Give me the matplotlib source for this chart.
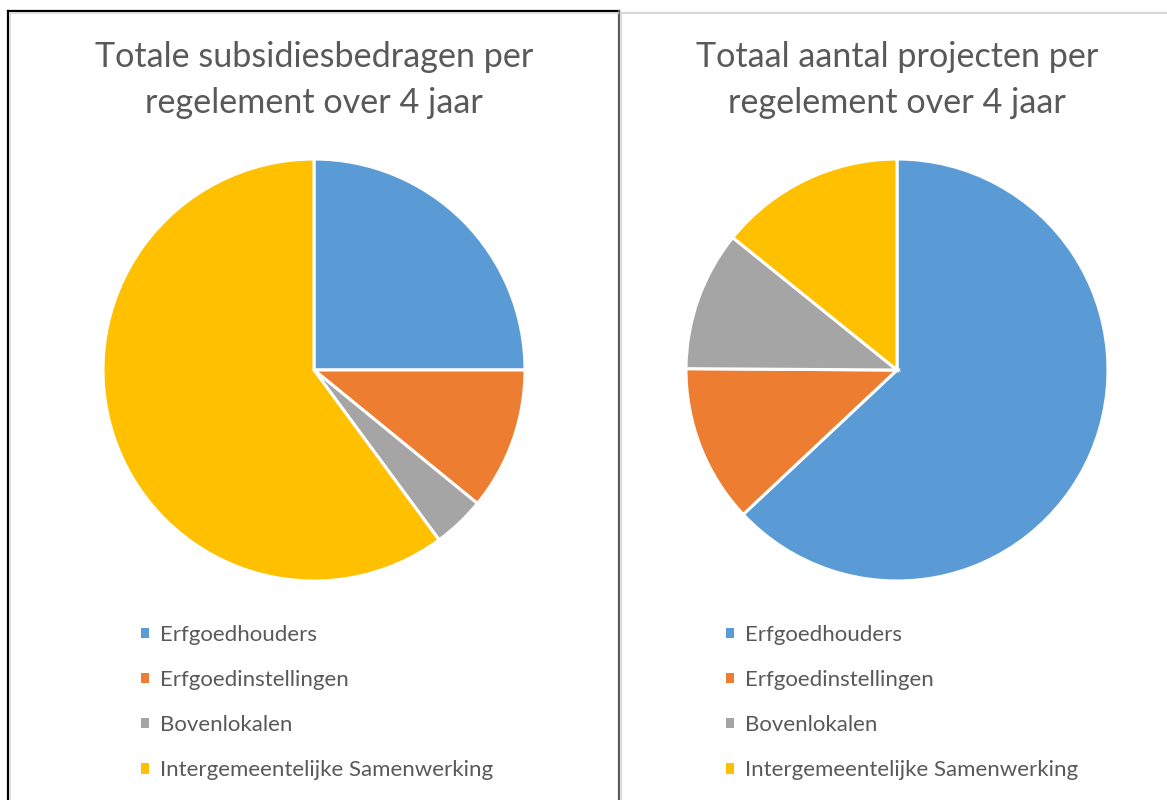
import matplotlib
matplotlib.use("Agg")
import matplotlib.pyplot as plt
from matplotlib.lines import Line2D
from matplotlib.patches import Patch

plt.rcParams["font.family"] = ["Lato", "DejaVu Sans"]

categories = ["Erfgoedhouders", "Erfgoedinstellingen", "Bovenlokalen",
              "Intergemeentelijke Samenwerking"]
bedragen = [25.0, 10.9, 4.0, 60.1]      # share of subsidy amounts (%)
projecten = [63.0, 12.1, 10.7, 14.2]    # share of projects (%)
titles = ["Totale subsidiesbedragen per\nregelement over 4 jaar",
          "Totaal aantal projecten per\nregelement over 4 jaar"]
colors = ["#5B9BD5", "#ED7D31", "#A5A5A5", "#FFC000"]
text_col = "#595959"

W, H = 1167, 800
fig = plt.figure(figsize=(W / 100, H / 100), dpi=100)


def fx(px):
    return px / W


def fy(py):
    return 1 - py / H


# panel frames (screenshot of two chart objects)
fig.add_artist(Line2D([fx(8), fx(8)], [fy(11), fy(800)], color="black", lw=1.6))
fig.add_artist(Line2D([fx(8), fx(619)], [fy(11), fy(11)], color="black", lw=1.6))
fig.add_artist(Line2D([fx(619), fx(619)], [fy(11), fy(800)], color="#555555", lw=1.6))
fig.add_artist(Line2D([fx(10), fx(618)], [fy(13), fy(13)], color="#d9d9d9", lw=1.2))
fig.add_artist(Line2D([fx(10), fx(10)], [fy(13), fy(800)], color="#d9d9d9", lw=1.2))
fig.add_artist(Line2D([fx(621), fx(621)], [fy(13), fy(800)], color="#d9d9d9", lw=1.6))
fig.add_artist(Line2D([fx(621), fx(1166)], [fy(13), fy(13)], color="#d9d9d9", lw=1.6))

R = 211
panels = [(314, bedragen, titles[0], 145), (897, projecten, titles[1], 730)]

for cx, vals, title, lx in panels:
    ax = fig.add_axes([fx(cx - R), fy(370 + R), 2 * R / W, 2 * R / H])
    ax.pie(vals, colors=colors, startangle=90, counterclock=False,
           wedgeprops=dict(edgecolor="white", linewidth=2.2))
    ax.set_xlim(-1, 1)
    ax.set_ylim(-1, 1)
    ax.set_aspect("equal")
    ax.axis("off")

    fig.text(fx(cx), fy(80), title, ha="center", va="center", fontsize=24.6,
             color=text_col, linespacing=1.55)

    handles = [Patch(facecolor=c, edgecolor="none") for c in colors]
    fig.legend(handles, categories, loc="upper left",
               bbox_to_anchor=(fx(lx - 24), fy(605)), frameon=False,
               fontsize=16, labelcolor=text_col, handlelength=0.34,
               handleheight=0.34, handletextpad=0.5, labelspacing=1.13)

fig.savefig("out.png", dpi=100)
